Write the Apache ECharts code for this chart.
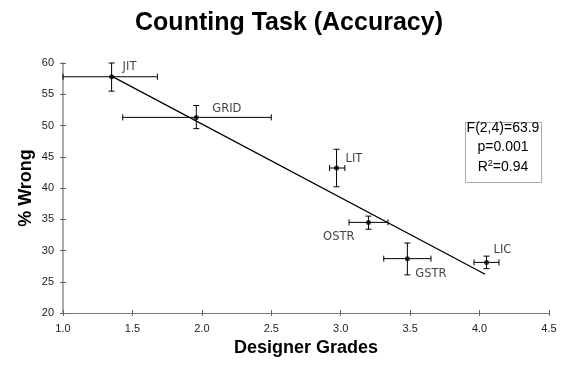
<!DOCTYPE html>
<html>
<head>
<meta charset="utf-8">
<script src="https://cdn.jsdelivr.net/npm/echarts@6/dist/echarts.min.js"></script>
<style>html,body{margin:0;padding:0;background:#fff}#c{width:570px;height:368px}</style>
</head>
<body>
<div id="c"></div>
<script>
// ---- data ----
const names = ['JIT', 'GRID', 'LIT', 'OSTR', 'GSTR', 'LIC'];
const grades = [1.35, 1.96, 2.97, 3.20, 3.48, 4.05];
const wrong = [57.8, 51.3, 43.2, 34.5, 28.7, 28.1];
const gradeLow = [1.00, 1.43, 2.92, 3.06, 3.31, 3.96];
const gradeHigh = [1.68, 2.50, 3.03, 3.34, 3.65, 4.14];
const wrongLow = [55.5, 49.5, 40.2, 33.4, 26.1, 27.1];
const wrongHigh = [60.0, 53.2, 46.2, 35.5, 31.2, 29.1];
const fitX = [1.35, 4.04];
const fitY = [57.9, 26.2];
const xMin = 1.0, xMax = 4.5, xStep = 0.5;
const yMin = 20, yMax = 60, yStep = 5;
const statF = 'F(2,4)=63.9';
const statP = 'p=0.001';
const statR2 = '0.94';

// ---- label placement (style, not data) ----
const labelPlace = {
  JIT: {offset: [11, -10], align: 'left'},
  GRID: {offset: [16, -8], align: 'left'},
  LIT: {offset: [9, -9], align: 'left'},
  OSTR: {offset: [-14, 15], align: 'right'},
  GSTR: {offset: [8, 15], align: 'left'},
  LIC: {offset: [7, -12], align: 'left'}
};

const chart = echarts.init(document.getElementById('c'), null, {renderer: 'canvas'});

const errData = names.map((n, i) => [grades[i], wrong[i], gradeLow[i], gradeHigh[i], wrongLow[i], wrongHigh[i]]);
const ptData = names.map((n, i) => ({
  name: n,
  value: [grades[i], wrong[i]],
  label: {offset: labelPlace[n].offset, align: labelPlace[n].align}
}));

const cap = 3;
function renderErr(params, api) {
  const c = api.coord([api.value(0), api.value(1)]);
  const xl = api.coord([api.value(2), api.value(1)]);
  const xh = api.coord([api.value(3), api.value(1)]);
  const yl = api.coord([api.value(0), api.value(4)]);
  const yh = api.coord([api.value(0), api.value(5)]);
  const st = {stroke: '#000', lineWidth: 1};
  const L = (x1, y1, x2, y2) => ({type: 'line', shape: {x1, y1, x2, y2}, style: st});
  return {
    type: 'group',
    children: [
      L(xl[0], c[1], xh[0], c[1]),
      L(xl[0], c[1] - cap, xl[0], c[1] + cap),
      L(xh[0], c[1] - cap, xh[0], c[1] + cap),
      L(c[0], yl[1], c[0], yh[1]),
      L(c[0] - cap, yl[1], c[0] + cap, yl[1]),
      L(c[0] - cap, yh[1], c[0] + cap, yh[1])
    ]
  };
}

const tickFont = {fontFamily: 'Liberation Sans, Arial, sans-serif', fontSize: 11, color: '#222'};
const statFont = {fontFamily: 'Liberation Sans, Arial, sans-serif', fontSize: 14, color: '#333'};

chart.setOption({
  animation: false,
  backgroundColor: '#fff',
  title: {
    text: 'Counting Task (Accuracy)',
    left: 284, top: 6, textAlign: 'center',
    textStyle: {fontFamily: 'Liberation Sans, Arial, sans-serif', fontWeight: 'bold', fontSize: 25, color: '#000'}
  },
  grid: {left: 63, right: 21, top: 63, bottom: 55},
  xAxis: [{
    type: 'value', min: xMin, max: xMax, interval: xStep,
    name: 'Designer Grades', nameLocation: 'middle', nameGap: 24,
    nameTextStyle: {fontFamily: 'Liberation Sans, Arial, sans-serif', fontWeight: 'bold', fontSize: 18, color: '#000'},
    axisLine: {show: true, onZero: false, lineStyle: {color: '#777', width: 1}},
    axisTick: {show: true, inside: false, length: 3, lineStyle: {color: '#666'}},
    axisLabel: Object.assign({margin: 10, formatter: v => v.toFixed(1)}, tickFont),
    splitLine: {show: false}
  }, {
    type: 'value', min: xMin, max: xMax, interval: xStep, position: 'bottom',
    axisLine: {show: false},
    axisTick: {show: true, inside: true, length: 3, lineStyle: {color: '#666'}},
    axisLabel: {show: false}, splitLine: {show: false}
  }],
  yAxis: [{
    type: 'value', min: yMin, max: yMax, interval: yStep,
    name: '% Wrong', nameLocation: 'middle', nameGap: 28, nameRotate: 90,
    nameMoveOverlap: false,
    nameTextStyle: {fontFamily: 'Liberation Sans, Arial, sans-serif', fontWeight: 'bold', fontSize: 18, color: '#000'},
    axisLine: {show: true, onZero: false, lineStyle: {color: '#aaa', width: 2}},
    axisTick: {show: true, inside: false, length: 3, lineStyle: {color: '#666'}},
    axisLabel: Object.assign({margin: 9}, tickFont),
    splitLine: {show: false}
  }, {
    type: 'value', min: yMin, max: yMax, interval: yStep, position: 'left',
    axisLine: {show: false},
    axisTick: {show: true, inside: true, length: 3, lineStyle: {color: '#666'}},
    axisLabel: {show: false}, splitLine: {show: false}
  }],
  series: [{
    type: 'line', xAxisIndex: 0, yAxisIndex: 0,
    data: fitX.map((x, i) => [x, fitY[i]]),
    symbol: 'none', lineStyle: {color: '#000', width: 1.3}, z: 2
  }, {
    type: 'custom', xAxisIndex: 0, yAxisIndex: 0,
    renderItem: renderErr, data: errData, z: 3
  }, {
    type: 'scatter', xAxisIndex: 0, yAxisIndex: 0,
    data: ptData, symbol: 'circle', symbolSize: 5,
    itemStyle: {color: '#000'}, z: 4,
    label: {
      show: true, position: 'inside', verticalAlign: 'middle',
      formatter: p => p.name,
      fontFamily: 'DejaVu Sans, Verdana, sans-serif', fontSize: 11.5, color: '#111'
    }
  }],
  graphic: [{
    type: 'rect', x: 465.5, y: 122.5,
    shape: {x: 0, y: 0, width: 76, height: 60},
    style: {fill: '#fff', stroke: '#aaa', lineWidth: 1}
  }, {
    type: 'text', x: 503, y: 128,
    style: Object.assign({text: statF, align: 'center', verticalAlign: 'middle'}, statFont)
  }, {
    type: 'text', x: 503, y: 147,
    style: Object.assign({text: statP, align: 'center', verticalAlign: 'middle'}, statFont)
  }, {
    type: 'text', x: 503, y: 167,
    style: {
      text: '{a|R}{s|2}{a|=' + statR2 + '}',
      align: 'center', verticalAlign: 'middle',
      rich: {
        a: Object.assign({}, statFont),
        s: {fontFamily: 'Liberation Sans, Arial, sans-serif', fontSize: 9, color: '#333', verticalAlign: 'top', padding: [0, 0, 7, 0]}
      }
    }
  }]
});
</script>
</body>
</html>
